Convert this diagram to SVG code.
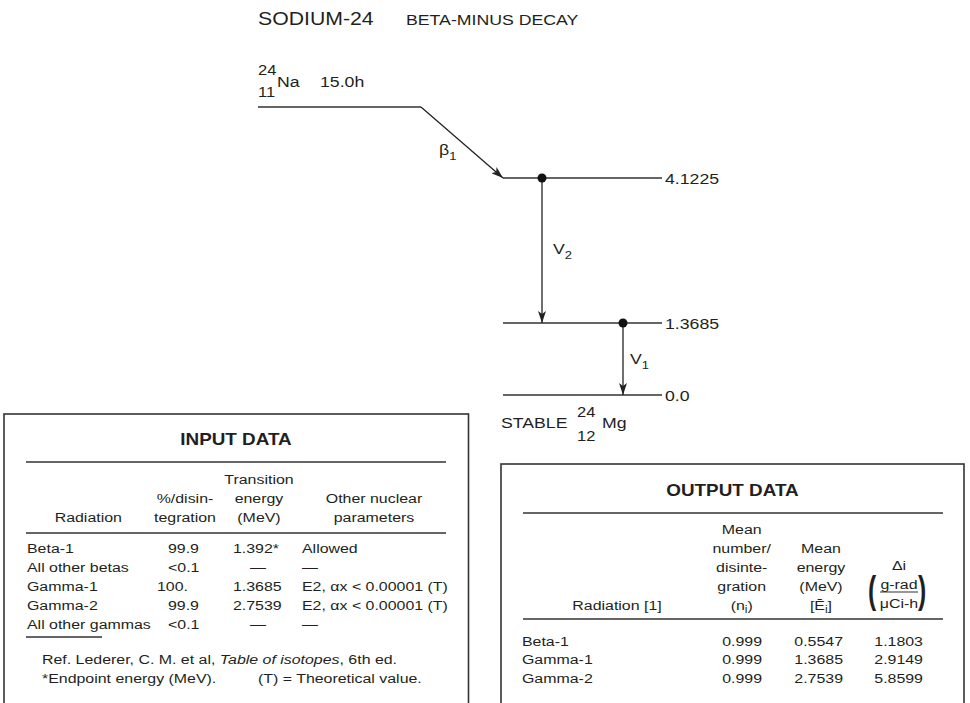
<svg xmlns="http://www.w3.org/2000/svg" width="970" height="703" viewBox="0 0 970 703">
<style>
text{font-family:"Liberation Sans",Arial,Helvetica,sans-serif;fill:#231f20}
.lvl{stroke:#333;stroke-width:1.4;fill:none}
.rule{stroke:#333;stroke-width:1.6}
.box{fill:none;stroke:#333;stroke-width:1.6}
.arr{stroke:#222;stroke-width:1.3;fill:none;marker-end:url(#ah)}
.f18{font-size:18px}.f15{font-size:15px}.f14{font-size:14px}.f13{font-size:13.5px}.f10{font-size:10px}.f11{font-size:11px}
.b{font-weight:bold;font-size:16px}
.m{text-anchor:middle}.e{text-anchor:end}
</style>
<defs>
<marker id="ah" viewBox="0 0 12 8" refX="12" refY="4" markerWidth="12" markerHeight="8" markerUnits="userSpaceOnUse" orient="auto">
<path d="M0,0 L12,4 L0,8 L3,4 z" fill="#222"/>
</marker>
</defs>
<rect width="970" height="703" fill="#fff"/>

<g id="title" transform="scale(1.18 1)">
<text class="f18" x="218.64" y="25">SODIUM-24</text>
<text class="f15" x="344.07" y="25">BETA-MINUS DECAY</text>
</g>

<g id="parent-na24">
<line class="lvl" x1="258" y1="107" x2="421" y2="107"/>
<g transform="scale(1.18 1)">
<text class="f14" x="218.64" y="75">24</text>
<text class="f14" x="218.64" y="97">11</text>
<text class="f15" x="234.75" y="87">Na</text>
<text class="f15" x="271.19" y="87">15.0h</text>
</g>
</g>

<g id="level-4.1225">
<line class="lvl" x1="503" y1="178" x2="662" y2="178"/>
<text class="f15" transform="scale(1.18 1)" x="563.56" y="184">4.1225</text>
</g>

<g id="level-1.3685">
<line class="lvl" x1="503" y1="323" x2="662" y2="323"/>
<text class="f15" transform="scale(1.18 1)" x="563.56" y="329">1.3685</text>
</g>

<g id="level-0.0">
<line class="lvl" x1="503" y1="395" x2="662" y2="395"/>
<g transform="scale(1.18 1)">
<text class="f15" x="563.56" y="401">0.0</text>
<text class="f15" x="424.58" y="428">STABLE</text>
<text class="f14" x="488.98" y="417">24</text>
<text class="f14" x="488.98" y="441">12</text>
<text class="f15" x="510.17" y="428">Mg</text>
</g>
</g>

<g id="connectors">
<line class="arr" x1="421" y1="107" x2="503" y2="178"/>
<line class="arr" x1="542" y1="178" x2="542" y2="323"/>
<line class="arr" x1="623" y1="323" x2="623" y2="395"/>
<circle cx="542" cy="178" r="4.5" fill="#111"/>
<circle cx="623" cy="323" r="4.5" fill="#111"/>
<g transform="scale(1.18 1)">
<text class="f15" x="372.03" y="155">β<tspan class="f11" dy="5">1</tspan></text>
<text class="f15" x="468.64" y="254">V<tspan class="f11" dy="5">2</tspan></text>
<text class="f15" x="533.90" y="364">V<tspan class="f11" dy="5">1</tspan></text>
</g>
</g>

<g id="input-data">
<rect class="box" x="4" y="414" width="464.5" height="320"/>
<line class="rule" x1="26" y1="462" x2="446" y2="462"/>
<line class="rule" x1="26" y1="533" x2="446" y2="533"/>
<line class="rule" x1="26" y1="637" x2="102" y2="637"/>
<g transform="scale(1.18 1)">
<text class="b m" x="200" y="445">INPUT DATA</text>
<text class="f13 m" x="219.49" y="484">Transition</text>
<text class="f13 m" x="156.78" y="503">%/disin-</text>
<text class="f13 m" x="219.49" y="503">energy</text>
<text class="f13 m" x="316.95" y="503">Other nuclear</text>
<text class="f13 m" x="74.83" y="522">Radiation</text>
<text class="f13 m" x="156.78" y="522">tegration</text>
<text class="f13 m" x="219.49" y="522">(MeV)</text>
<text class="f13 m" x="316.95" y="522">parameters</text>

<text class="f13" x="22.88" y="553">Beta-1</text>
<text class="f13" x="142.37" y="553">99.9</text>
<text class="f13" x="197.46" y="553">1.392*</text>
<text class="f13" x="255.93" y="553">Allowed</text>

<text class="f13" x="22.88" y="572">All other betas</text>
<text class="f13" x="142.37" y="572">&lt;0.1</text>
<text class="f13 m" x="218.64" y="572">—</text>
<text class="f13" x="255.93" y="572">—</text>

<text class="f13" x="22.88" y="591">Gamma-1</text>
<text class="f13" x="133.05" y="591">100.</text>
<text class="f13" x="197.46" y="591">1.3685</text>
<text class="f13" x="255.93" y="591">E2, αx &lt; 0.00001 (T)</text>

<text class="f13" x="22.88" y="610">Gamma-2</text>
<text class="f13" x="142.37" y="610">99.9</text>
<text class="f13" x="197.46" y="610">2.7539</text>
<text class="f13" x="255.93" y="610">E2, αx &lt; 0.00001 (T)</text>

<text class="f13" x="22.88" y="629">All other gammas</text>
<text class="f13" x="142.37" y="629">&lt;0.1</text>
<text class="f13 m" x="218.64" y="629">—</text>
<text class="f13" x="255.93" y="629">—</text>

<text class="f13" x="35.59" y="664">Ref. Lederer, C. M. et al, <tspan font-style="italic">Table of isotopes</tspan>, 6th ed.</text>
<text class="f13" x="35.59" y="683">*Endpoint energy (MeV).</text>
<text class="f13" x="218.64" y="683">(T) = Theoretical value.</text>
</g>
</g>

<g id="output-data">
<rect class="box" x="501" y="464" width="463" height="270"/>
<line class="rule" x1="523" y1="513" x2="943" y2="513"/>
<line class="rule" x1="523" y1="619" x2="943" y2="619"/>
<line stroke="#333" stroke-width="1.1" x1="880" y1="592" x2="918" y2="592"/>
<text x="868" y="603" font-size="38" font-weight="bold" transform="translate(868 0) scale(0.65 1) translate(-868 0)">(</text>
<text x="918" y="603" font-size="38" font-weight="bold" transform="translate(918 0) scale(0.65 1) translate(-918 0)">)</text>
<g transform="scale(1.18 1)">
<text class="b m" x="620.76" y="496">OUTPUT DATA</text>
<text class="f13 m" x="628.56" y="534">Mean</text>
<text class="f13 m" x="628.56" y="553">number/</text>
<text class="f13 m" x="628.56" y="572">disinte-</text>
<text class="f13 m" x="628.56" y="591">gration</text>
<text class="f13 m" x="628.56" y="610">(n<tspan class="f10" dy="3">i</tspan><tspan dy="-3">)</tspan></text>
<text class="f13 m" x="695.76" y="553">Mean</text>
<text class="f13 m" x="695.76" y="572">energy</text>
<text class="f13 m" x="695.76" y="591">(MeV)</text>
<text class="f13 m" x="695.76" y="610">[Ē<tspan class="f10" dy="3">i</tspan><tspan dy="-3">]</tspan></text>
<text class="f13 m" x="761.86" y="570">Δi</text>
<text class="f13 m" x="761.86" y="589">g-rad</text>
<text class="f13 m" x="761.86" y="608">μCi-h</text>
<text class="f13 m" x="522.88" y="610">Radiation [1]</text>

<text class="f13" x="442.37" y="646">Beta-1</text>
<text class="f13 e" x="645.76" y="646">0.999</text>
<text class="f13 e" x="714.41" y="646">0.5547</text>
<text class="f13 e" x="782.20" y="646">1.1803</text>

<text class="f13" x="442.37" y="664.5">Gamma-1</text>
<text class="f13 e" x="645.76" y="664.5">0.999</text>
<text class="f13 e" x="714.41" y="664.5">1.3685</text>
<text class="f13 e" x="782.20" y="664.5">2.9149</text>

<text class="f13" x="442.37" y="683">Gamma-2</text>
<text class="f13 e" x="645.76" y="683">0.999</text>
<text class="f13 e" x="714.41" y="683">2.7539</text>
<text class="f13 e" x="782.20" y="683">5.8599</text>
</g>
</g>
</svg>
